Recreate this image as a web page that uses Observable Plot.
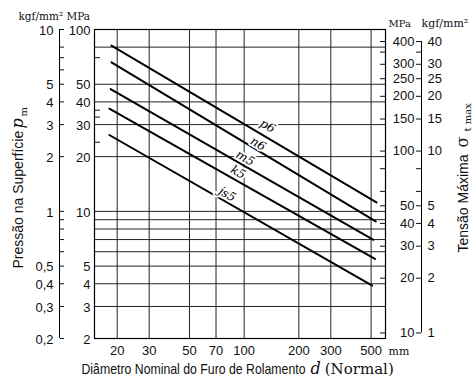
<!DOCTYPE html>
<html><head><meta charset="utf-8">
<script src="https://cdn.jsdelivr.net/npm/d3@7"></script>
<script src="https://cdn.jsdelivr.net/npm/@observablehq/plot@0.6"></script>
<style>body{margin:0;background:#fff}</style>
</head><body><div id="chart"></div>
<script>
// ---- data ----
const fits   = ["p6", "n6", "m5", "k5", "js5"];
const dStart = [18.6, 18.6, 18.4, 18.1, 18.1];   // mm
const pStart = [81.6, 66, 47, 36.7, 26.3];       // MPa
const dEnd   = [535, 530, 515, 525, 507];
const pEnd   = [11.2, 8.8, 6.98, 5.48, 3.91];
const labelD = [134.7, 119.4, 101.3, 92.7, 80.6];
const labelP = [29.5, 23.5, 19.6, 16.4, 12.4];

const xTicks = [20, 30, 50, 70, 100, 200, 300, 500];
const gridMPa = [80, 50, 40, 30, 20, 10, 9, 8, 7, 6, 5, 4, 3];
const leftMPaLabels = [100, 50, 40, 30, 20, 10, 5, 4, 3, 2];
const leftKgfTicks = [10, 8, 7, 6, 5, 4, 3, 2, 1, 0.9, 0.8, 0.7, 0.6, 0.5, 0.4, 0.3, 0.2];
const leftKgfLabels = [10, 5, 4, 3, 2, 1, 0.5, 0.4, 0.3, 0.2];
const leftInnerTicks = [70, 36, 33, 24];
const rightMPaTicks = [400, 350, 300, 250, 200, 150, 100, 80, 60, 50, 40, 30, 20, 10];
const rightMPaLabels = [400, 300, 250, 200, 150, 100, 50, 40, 30, 20, 10];
const rightKgfLabels = [40, 30, 25, 20, 15, 10, 5, 4, 3, 2, 1];
const MPA_PER_KGF = 10;
const RIGHT_PER_LEFT = 4.66;   // right-axis MPa per left-axis MPa

// ---- build tables ----
const lineRows = fits.flatMap((f, i) => [
  {fit: f, d: dStart[i], p: pStart[i]},
  {fit: f, d: dEnd[i], p: pEnd[i]}
]);
const labelRows = fits.map((f, i) => ({fit: f, d: labelD[i], p: labelP[i]}));

const W = 473, H = 379, mL = 94, mR = 88, mT = 29, mB = 41;
const xDomain = [15, 600];
const sans = "'Liberation Sans', Arial, sans-serif";
const serif = "'DejaVu Serif', 'Liberation Serif', serif";
const fmt = v => String(v).replace(".", ",");
const at = (x, y) => ({frameAnchor: "top-left", dx: x - mL, dy: y - mT});
const toRight = r => r / RIGHT_PER_LEFT;
const XTITLE = "Diâmetro Nominal do Furo de Rolamento";
const XVAR = "d";
const XNOTE = "(Normal)";
const XFULL = XTITLE + " " + XVAR + " " + XNOTE;

const chart = Plot.plot({
  width: W, height: H,
  marginLeft: mL, marginRight: mR, marginTop: mT, marginBottom: mB,
  style: {fontFamily: sans, fontSize: "13px", color: "#111", background: "#fff", overflow: "visible"},
  x: {type: "log", domain: xDomain, axis: null},
  y: {type: "log", domain: [2, 100], axis: null},
  marks: [
    Plot.ruleX(xTicks, {stroke: "#222", strokeWidth: 1}),
    Plot.ruleY(gridMPa, {stroke: "#222", strokeWidth: 1}),
    Plot.frame({stroke: "#000", strokeWidth: 1.2}),
    Plot.line(lineRows, {x: "d", y: "p", z: "fit", stroke: "#000", strokeWidth: 2}),
    Plot.text(labelRows, {x: "d", y: "p", text: "fit", rotate: 30, fontFamily: serif, fontStyle: "italic",
      fontSize: 12, fill: "#000", stroke: "#fff", strokeWidth: 4, paintOrder: "stroke"}),

    // bottom axis
    Plot.text(xTicks, {x: d => d, text: d => String(d), frameAnchor: "bottom", lineAnchor: "top", dy: 7, fontSize: 13}),
    Plot.text(["mm"], {...at(388, 354), text: d => d, textAnchor: "start", lineAnchor: "bottom", fontFamily: serif, fontSize: 11}),
    Plot.text([XFULL], {...at(81, 373), text: d => d, textAnchor: "start", lineAnchor: "bottom", fontSize: 15}),

    // left MPa axis
    Plot.text(leftMPaLabels, {y: d => d, text: d => String(d), frameAnchor: "left", textAnchor: "end", dx: -4, dy: 1, fontSize: 13}),
    Plot.axisY(leftInnerTicks, {anchor: "right", dx: mL - (W - mR), tickSize: 5, tickFormat: () => "", label: null}),

    // left kgf/mm² axis
    Plot.ruleX([xDomain[0]], {dx: -35, stroke: "#000"}),
    Plot.axisY(leftKgfTicks.map(v => v * MPA_PER_KGF), {anchor: "right", dx: 59 - (W - mR), tickSize: 4, tickFormat: () => "", label: null}),
    Plot.text(leftKgfLabels, {y: v => v * MPA_PER_KGF, text: fmt, frameAnchor: "left", textAnchor: "end", dx: 53 - mL, dy: 1, fontSize: 13}),

    // right axes
    Plot.axisY(rightMPaTicks.map(toRight), {anchor: "left", dx: (W - mR) - mL, tickSize: 5, tickFormat: () => "", label: null}),
    Plot.ruleX([xDomain[1]], {y1: toRight(rightMPaTicks[0]), y2: toRight(rightMPaTicks[rightMPaTicks.length - 1]), dx: 36, stroke: "#000"}),
    Plot.axisY(rightMPaTicks.map(toRight), {anchor: "left", dx: 421 - mL, tickSize: 5, tickFormat: () => "", label: null}),
    Plot.text(rightMPaLabels, {y: toRight, text: d => String(d), frameAnchor: "right", textAnchor: "end", dx: 414 - (W - mR), fontSize: 13}),
    Plot.text(rightKgfLabels, {y: k => toRight(k * MPA_PER_KGF), text: d => String(d), frameAnchor: "right", textAnchor: "start", dx: 427 - (W - mR), fontSize: 13}),

    // unit headers
    Plot.text(["kgf/mm² MPa"], {...at(18, 19), text: d => d, textAnchor: "start", lineAnchor: "bottom", fontFamily: serif, fontSize: 10.5}),
    Plot.text(["MPa"], {...at(388, 26), text: d => d, textAnchor: "start", lineAnchor: "bottom", fontFamily: serif, fontSize: 10}),
    Plot.text(["kgf/mm²"], {...at(421, 26), text: d => d, textAnchor: "start", lineAnchor: "bottom", fontFamily: serif, fontSize: 11}),

    // left title
    Plot.text(["Pressão na Superfície"], {...at(22, 268), text: d => d, rotate: -90, textAnchor: "start", lineAnchor: "bottom", fontSize: 14}),
    Plot.text(["p"], {...at(22, 128), text: d => d, rotate: -90, textAnchor: "start", lineAnchor: "bottom", fontFamily: serif, fontStyle: "italic", fontSize: 16}),
    Plot.text(["m"], {...at(26, 116), text: d => d, rotate: -90, textAnchor: "start", lineAnchor: "bottom", fontFamily: serif, fontSize: 10}),

    // right title
    Plot.text(["Tensão Máxima"], {...at(467, 252), text: d => d, rotate: -90, textAnchor: "start", lineAnchor: "bottom", fontSize: 14}),
    Plot.text(["σ"], {...at(467, 147), text: d => d, rotate: -90, textAnchor: "start", lineAnchor: "bottom", fontFamily: serif, fontSize: 16}),
    Plot.text(["t max"], {...at(470, 131), text: d => d, rotate: -90, textAnchor: "start", lineAnchor: "bottom", fontFamily: serif, fontSize: 10})
  ]
});
// split the x-axis title into styled runs: condensed sans words, italic serif "d", serif "(Normal)"
d3.select(chart).selectAll("text").filter(function () { return this.textContent === XFULL; })
  .each(function () {
    const t = d3.select(this).text(null);
    t.append("tspan").text(XTITLE).attr("textLength", 224).attr("lengthAdjust", "spacingAndGlyphs");
    t.append("tspan").attr("dx", 5).text(XVAR)
      .style("font-family", serif).style("font-style", "italic").style("font-size", "16px");
    t.append("tspan").attr("dx", 4).text(XNOTE)
      .style("font-family", serif).style("font-size", "15px");
  });
document.getElementById("chart").append(chart);
</script>
</body></html>
